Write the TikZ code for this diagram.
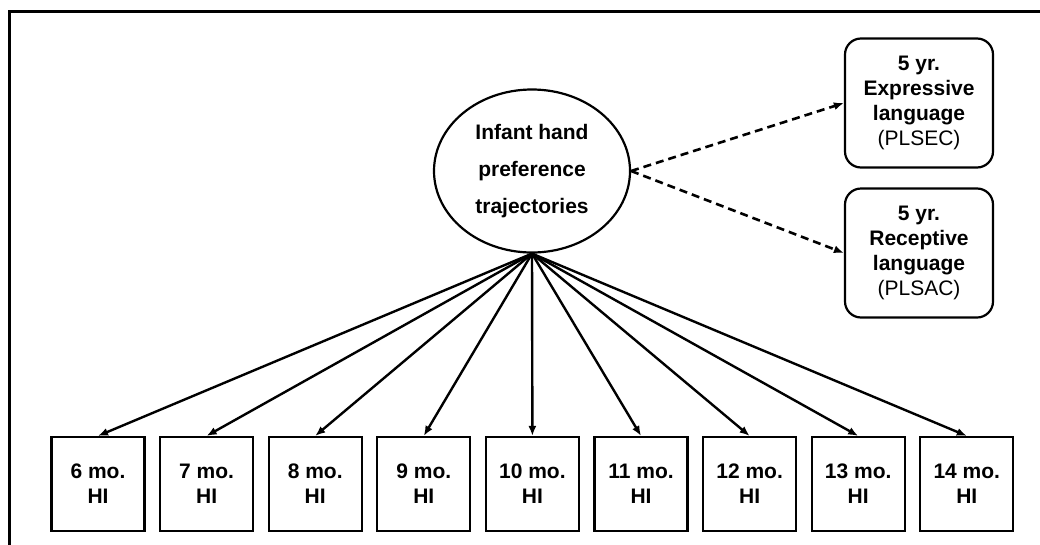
\documentclass[tikz,border=0pt]{standalone}
\usepackage{fontspec}
\setmainfont{Liberation Sans}
\usetikzlibrary{shapes.geometric,arrows.meta}
\begin{document}
\begin{tikzpicture}[x=1pt,y=-1pt,
  frameline/.style={line width=3pt,line cap=rect},
  latent/.style={ellipse,draw,line width=2.2pt,minimum width=196pt,minimum height=163pt,inner sep=0pt,align=center,font=\fontsize{21pt}{37pt}\selectfont\bfseries},
  outcome/.style={draw,line width=2.2pt,rounded corners=16pt,minimum width=148pt,minimum height=129pt,inner sep=0pt,align=center,font=\fontsize{21pt}{25pt}\selectfont},
  indicator/.style={draw,line width=2.2pt,minimum width=93pt,minimum height=94pt,inner sep=0pt,align=center,font=\fontsize{21pt}{25pt}\selectfont\bfseries},
  loading/.style={line width=2.4pt,-{Latex[length=10pt,width=8pt]}},
  effect/.style={line width=2.6pt,dash pattern=on 8pt off 5pt,-{Latex[length=10pt,width=8pt]}}]
\useasboundingbox (0,0) rectangle (1040,544);
\draw[frameline] (9,544) -- (9,11) -- (1040,11);
\node[latent] (lat) at (532,171) {Infant hand\\preference\\trajectories};
\node[outcome] (exp) at (919,103) {\textbf{5 yr.}\\\textbf{Expressive}\\\textbf{language}\\(PLSEC)};
\node[outcome] (rec) at (919,253) {\textbf{5 yr.}\\\textbf{Receptive}\\\textbf{language}\\(PLSAC)};
\foreach \m [count=\i from 0] in {6,...,14}{
  \node[indicator] (hi\m) at ({98+108.6*\i},484) {\m\ mo.\\HI};
  \draw[loading] (lat.south) -- (hi\m.north);
}
\draw[effect] (lat.east) -- (exp.west);
\draw[effect] (lat.east) -- (rec.west);
\end{tikzpicture}
\end{document}
